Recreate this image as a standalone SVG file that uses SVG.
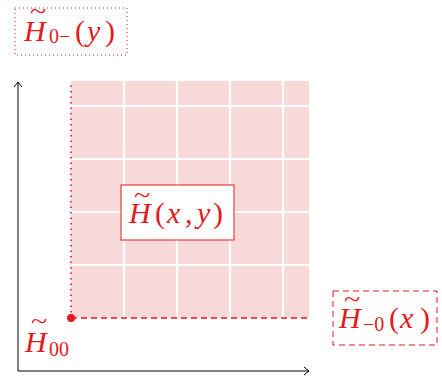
<svg xmlns="http://www.w3.org/2000/svg" width="442" height="383" viewBox="0 0 442 383">
<defs>
<style>
.m{font-family:"Liberation Serif","DejaVu Serif",serif;fill:#e41a1c;font-size:30px;}
.i{font-style:italic;}
.sub{font-size:20px;}
.t{font-size:23px;}
.grid{stroke:#fff;stroke-width:2.2;}
.box{fill:#fff;stroke:#e41a1c;stroke-width:1;}
.ax{stroke:#000;stroke-width:1;fill:none;}
</style>
<marker id="arr" viewBox="-6 -5 8 10" markerWidth="8" markerHeight="10" refX="0" refY="0" orient="auto" markerUnits="userSpaceOnUse">
<path d="M-5,-4 Q-1.5,-1 0,0 Q-1.5,1 -5,4" fill="none" stroke="#000" stroke-width="1"/>
</marker>
</defs>
<g id="axes">
<line class="ax" x1="18" y1="371" x2="18" y2="82" marker-end="url(#arr)"/>
<line class="ax" x1="18" y1="371" x2="309" y2="371" marker-end="url(#arr)"/>
</g>
<g id="region">
<rect x="71" y="81" width="238" height="237" fill="#f8d9d9"/>
<g class="grid">
<line x1="124" y1="81" x2="124" y2="318"/>
<line x1="177" y1="81" x2="177" y2="318"/>
<line x1="230" y1="81" x2="230" y2="318"/>
<line x1="283" y1="81" x2="283" y2="318"/>
<line x1="71" y1="106" x2="309" y2="106"/>
<line x1="71" y1="159" x2="309" y2="159"/>
<line x1="71" y1="212" x2="309" y2="212"/>
<line x1="71" y1="265" x2="309" y2="265"/>
</g>
</g>
<g id="connectors">
<line x1="71" y1="318" x2="71" y2="82" stroke="#e41a1c" stroke-width="1.6" stroke-dasharray="1.5 4"/>
<line x1="71" y1="318" x2="309" y2="318" stroke="#e41a1c" stroke-width="1.6" stroke-dasharray="6 4"/>
</g>
<g id="H00">
<circle cx="71" cy="318" r="4" fill="#e41a1c"/>
<text class="m t" transform="translate(31 329) scale(1.3 1)">~</text>
<text class="m" y="352"><tspan class="i" x="25">H</tspan><tspan class="sub" x="49" dy="4">00</tspan></text>
</g>
<g id="H0minus">
<rect x="15" y="8" width="112" height="47" fill="none" stroke="#e41a1c" stroke-width="1" stroke-dasharray="1 3"/>
<text class="m t" transform="translate(30 19) scale(1.3 1)">~</text>
<text class="m" y="41"><tspan class="i" x="24">H</tspan><tspan class="sub" x="49" dy="2">0−</tspan><tspan x="75" dy="-2">(</tspan><tspan class="i" x="87">y</tspan><tspan x="105">)</tspan></text>
</g>
<g id="Hxy">
<rect class="box" x="121" y="185" width="113" height="55"/>
<text class="m t" transform="translate(134 203) scale(1.3 1)">~</text>
<text class="m" y="223"><tspan class="i" x="129">H</tspan><tspan x="155">(</tspan><tspan class="i" x="167">x</tspan><tspan x="185">,</tspan><tspan class="i" x="197">y</tspan><tspan x="213">)</tspan></text>
</g>
<g id="Hminus0">
<rect x="333" y="291" width="104" height="54" fill="#fff" stroke="#e41a1c" stroke-width="1" stroke-dasharray="6 4"/>
<text class="m t" transform="translate(344 307) scale(1.3 1)">~</text>
<text class="m" y="328"><tspan class="i" x="339">H</tspan><tspan class="sub" x="363" dy="3">−0</tspan><tspan x="389" dy="-3">(</tspan><tspan class="i" x="400">x</tspan><tspan x="420">)</tspan></text>
</g>
</svg>
